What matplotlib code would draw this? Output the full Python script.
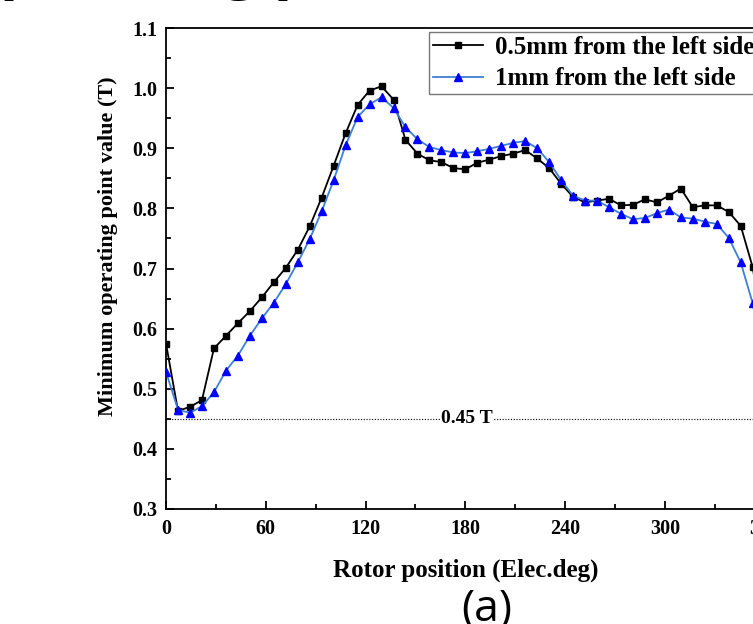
import numpy as np
import matplotlib
matplotlib.use('Agg')
import matplotlib.pyplot as plt
from matplotlib.ticker import MultipleLocator, FormatStrFormatter

# ── data ──────────────────────────────────────────────────────────────────────
rotor_pos = np.arange(51) * 7.2          # electrical degrees, 0 … 360

b_05mm = [0.575, 0.463, 0.470, 0.481, 0.567, 0.588, 0.609, 0.629, 0.652, 0.677,
          0.701, 0.731, 0.770, 0.818, 0.871, 0.925, 0.972, 0.996, 1.003, 0.981,
          0.914, 0.891, 0.880, 0.877, 0.867, 0.865, 0.876, 0.881, 0.887, 0.891,
          0.897, 0.883, 0.867, 0.841, 0.819, 0.810, 0.813, 0.816, 0.805, 0.806,
          0.815, 0.810, 0.821, 0.833, 0.802, 0.805, 0.805, 0.794, 0.771, 0.702,
          0.575]

b_1mm = [0.528, 0.465, 0.460, 0.471, 0.494, 0.530, 0.555, 0.588, 0.617, 0.643,
         0.674, 0.710, 0.749, 0.795, 0.847, 0.905, 0.952, 0.973, 0.985, 0.967,
         0.935, 0.915, 0.902, 0.897, 0.893, 0.892, 0.895, 0.899, 0.904, 0.909,
         0.912, 0.900, 0.877, 0.847, 0.821, 0.813, 0.813, 0.802, 0.791, 0.782,
         0.784, 0.792, 0.798, 0.785, 0.783, 0.778, 0.774, 0.751, 0.710, 0.642,
         0.528]

labels = ['0.5mm from the left side', '1mm from the left side']
limit_b = 0.45

serif = 'Liberation Serif'

fig = plt.figure(figsize=(7.53, 6.24), dpi=100)
ax = fig.add_axes([0.2205, 0.1843, 0.795, 0.7708])

ax.plot(rotor_pos, b_05mm, color='black', lw=1.3, marker='s', ms=5,
        mfc='black', mec='black', label=labels[0], zorder=3)
ax.plot(rotor_pos, b_1mm, color='#3d7fd6', lw=1.3, marker='^', ms=6,
        mfc='#0000ff', mec='#0000ff', label=labels[1], zorder=4)

# 0.45 T reference
ax.axhline(limit_b, color='black', lw=0.8, ls=(0, (1, 1.5)), zorder=2)
ax.text(181, limit_b, '0.45 T', ha='center', va='center', fontsize=14,
        family=serif, fontweight='bold',
        bbox=dict(facecolor='white', edgecolor='none', pad=0.5), zorder=2.5)

ax.set_xlim(0, 360)
ax.set_ylim(0.3, 1.1)
ax.xaxis.set_major_locator(MultipleLocator(60))
ax.xaxis.set_minor_locator(MultipleLocator(30))
ax.yaxis.set_major_locator(MultipleLocator(0.1))
ax.yaxis.set_minor_locator(MultipleLocator(0.05))
ax.yaxis.set_major_formatter(FormatStrFormatter('%.1f'))

ax.tick_params(which='both', direction='in', top=False, right=False,
               width=1.3, labelsize=14.5)
ax.tick_params(which='major', length=6)
ax.tick_params(which='minor', length=3.5)
ax.tick_params(axis='x', pad=7)
ax.tick_params(axis='y', pad=6)
for lab in ax.get_xticklabels() + ax.get_yticklabels():
    lab.set_family(serif)
    lab.set_fontweight('bold')
for sp in ax.spines.values():
    sp.set_linewidth(1.3)

ax.set_xlabel('Rotor position (Elec.deg)', fontsize=18, family=serif,
              fontweight='bold', labelpad=14)
ax.set_ylabel('Minimum operating point value (T)', fontsize=16, family=serif,
              fontweight='bold')
ax.yaxis.set_label_coords(-0.08, 0.547)

leg = ax.legend(loc='upper left', bbox_to_anchor=(0.439, 0.992),
                borderaxespad=0, fancybox=False, numpoints=1,
                handlelength=2.0, handletextpad=0.5, borderpad=0.15,
                labelspacing=0.35,
                prop={'family': serif, 'weight': 'bold', 'size': 18})
leg.get_frame().set_edgecolor('#555555')
leg.get_frame().set_linewidth(1.0)

# panel heading (runs off the top) and panel tag
fig.text(-0.05, 1.022, 'operating point', fontsize=44, family='Open Sans',
         fontweight='bold', ha='left', va='baseline')
fig.text(0.647, 0.005, '(a)', fontsize=32, family='Open Sans',
         ha='center', va='baseline')

fig.savefig('out.png', dpi=100)
